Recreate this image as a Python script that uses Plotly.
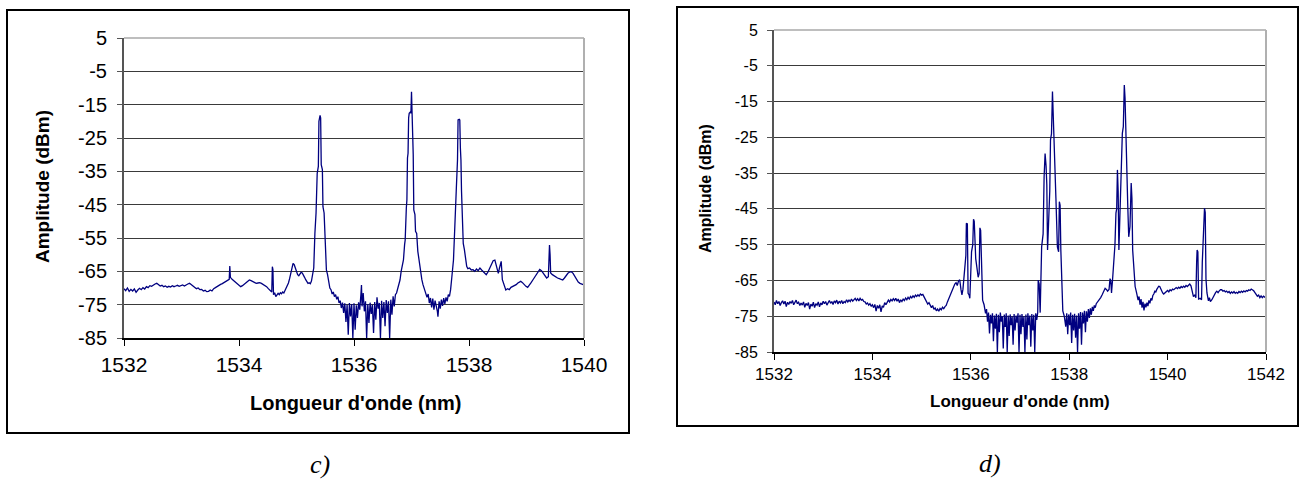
import plotly.graph_objects as go

# ---------------- data: panel c) ----------------
c_wl = [1532.00,1532.03,1532.06,1532.09,1532.12,1532.15,1532.18,1532.21,1532.24,1532.27,1532.30,1532.33,1532.36,1532.39,1532.42,1532.45,1532.48,1532.51,1532.54,1532.57,1532.60,1532.63,1532.66,1532.69,1532.72,1532.75,1532.78,1532.81,1532.84,1532.87,1532.90,1532.93,1532.96,1532.99,1533.02,1533.05,1533.08,1533.11,1533.14,1533.17,1533.20,1533.23,1533.26,1533.29,1533.32,1533.35,1533.38,1533.41,1533.44,1533.47,1533.50,1533.53,1533.56,1533.59,1533.62,1533.65,1533.68,1533.71,1533.74,1533.77,1533.80,1533.83,1533.84,1533.85,1533.88,1533.91,1533.94,1533.97,1534.00,1534.03,1534.06,1534.09,1534.12,1534.15,1534.18,1534.21,1534.24,1534.27,1534.30,1534.33,1534.36,1534.39,1534.42,1534.45,1534.48,1534.51,1534.54,1534.57,1534.58,1534.59,1534.60,1534.62,1534.64,1534.66,1534.68,1534.70,1534.72,1534.74,1534.76,1534.78,1534.80,1534.82,1534.84,1534.86,1534.88,1534.90,1534.92,1534.94,1534.96,1534.98,1535.00,1535.02,1535.04,1535.06,1535.08,1535.10,1535.12,1535.14,1535.16,1535.18,1535.20,1535.22,1535.24,1535.26,1535.28,1535.30,1535.32,1535.34,1535.36,1535.38,1535.39,1535.40,1535.41,1535.42,1535.43,1535.45,1535.46,1535.48,1535.50,1535.52,1535.54,1535.56,1535.58,1535.60,1535.62,1535.64,1535.66,1535.68,1535.70,1535.72,1535.74,1535.76,1535.78,1535.80,1535.82,1535.84,1535.86,1535.88,1535.90,1535.92,1535.94,1535.96,1535.98,1536.00,1536.02,1536.04,1536.06,1536.08,1536.10,1536.12,1536.13,1536.14,1536.16,1536.18,1536.20,1536.22,1536.24,1536.26,1536.28,1536.30,1536.32,1536.34,1536.36,1536.38,1536.40,1536.42,1536.44,1536.46,1536.48,1536.50,1536.52,1536.54,1536.56,1536.58,1536.60,1536.62,1536.64,1536.66,1536.68,1536.70,1536.72,1536.74,1536.76,1536.78,1536.80,1536.82,1536.84,1536.86,1536.88,1536.89,1536.91,1536.92,1536.93,1536.94,1536.95,1536.96,1536.98,1536.99,1537.00,1537.01,1537.02,1537.03,1537.04,1537.06,1537.07,1537.09,1537.11,1537.13,1537.15,1537.18,1537.20,1537.23,1537.25,1537.27,1537.29,1537.31,1537.33,1537.35,1537.37,1537.39,1537.41,1537.43,1537.45,1537.46,1537.48,1537.50,1537.52,1537.54,1537.56,1537.58,1537.60,1537.62,1537.64,1537.66,1537.68,1537.70,1537.72,1537.73,1537.75,1537.76,1537.78,1537.80,1537.81,1537.83,1537.84,1537.85,1537.86,1537.87,1537.88,1537.90,1537.92,1537.94,1537.96,1537.98,1538.01,1538.04,1538.07,1538.10,1538.13,1538.16,1538.19,1538.22,1538.25,1538.28,1538.30,1538.33,1538.36,1538.39,1538.42,1538.45,1538.47,1538.49,1538.51,1538.53,1538.55,1538.56,1538.58,1538.60,1538.62,1538.64,1538.67,1538.70,1538.73,1538.76,1538.79,1538.82,1538.85,1538.88,1538.90,1538.93,1538.96,1538.99,1539.02,1539.05,1539.08,1539.11,1539.14,1539.17,1539.20,1539.23,1539.26,1539.29,1539.32,1539.35,1539.38,1539.40,1539.41,1539.42,1539.45,1539.48,1539.51,1539.54,1539.57,1539.60,1539.63,1539.66,1539.69,1539.72,1539.75,1539.78,1539.81,1539.84,1539.87,1539.90,1539.93,1539.96,1540.00]
c_amp = [-70.2,-70.8,-70.0,-71.0,-70.4,-70.9,-70.3,-71.3,-70.6,-70.1,-70.5,-69.9,-70.3,-69.6,-69.9,-69.3,-69.5,-69.0,-68.8,-68.6,-69.1,-69.4,-69.2,-69.6,-69.4,-69.8,-69.5,-69.7,-69.3,-69.6,-69.4,-69.2,-69.5,-69.3,-69.1,-69.4,-69.0,-68.8,-68.6,-69.0,-69.5,-69.8,-70.2,-70.0,-70.5,-70.4,-70.9,-70.7,-71.1,-71.0,-70.6,-70.9,-70.2,-69.9,-69.5,-69.3,-68.9,-68.7,-68.4,-68.2,-67.8,-67.4,-63.4,-66.8,-67.4,-67.9,-68.3,-68.8,-69.2,-69.6,-69.3,-68.8,-68.3,-67.9,-67.6,-67.8,-68.1,-68.4,-68.6,-68.5,-68.4,-68.6,-68.9,-69.3,-69.6,-70.2,-70.8,-71.2,-63.6,-64.5,-72.0,-71.4,-72.6,-72.1,-71.6,-72.0,-71.4,-71.7,-71.2,-71.5,-70.8,-70.4,-69.6,-68.5,-67.2,-65.6,-63.5,-62.6,-63.0,-64.2,-65.3,-66.0,-66.3,-65.8,-65.3,-65.5,-66.0,-66.8,-67.5,-68.2,-68.6,-68.4,-68.7,-67.9,-66.2,-64.0,-53.6,-47.5,-35.6,-33.5,-20.0,-18.6,-18.2,-19.0,-33.0,-34.5,-45.6,-47.5,-57.0,-64.6,-66.0,-68.5,-70.0,-70.5,-71.8,-71.2,-72.6,-72.0,-73.4,-72.6,-74.5,-73.8,-76.0,-74.4,-77.5,-74.6,-80.2,-75.0,-84.0,-74.5,-78.5,-74.8,-85.0,-74.6,-82.5,-75.2,-79.0,-74.3,-76.5,-72.0,-69.1,-75.5,-71.5,-77.0,-74.0,-85.0,-74.8,-80.5,-74.4,-77.8,-75.0,-83.5,-74.2,-79.5,-72.8,-76.2,-74.5,-85.0,-73.8,-79.0,-74.2,-81.5,-73.6,-77.5,-74.0,-85.0,-73.5,-78.0,-72.5,-75.5,-72.0,-71.5,-70.0,-68.5,-67.6,-65.0,-63.5,-61.6,-57.0,-55.6,-46.0,-43.6,-31.0,-29.6,-19.0,-17.6,-17.2,-17.6,-11.1,-18.0,-21.6,-30.0,-46.6,-48.0,-53.0,-53.6,-59.0,-62.0,-64.6,-67.5,-69.0,-70.6,-71.5,-72.8,-71.8,-74.5,-73.0,-75.8,-73.2,-76.5,-73.8,-75.0,-77.0,-78.6,-74.0,-76.2,-73.5,-75.4,-73.0,-74.8,-72.8,-74.0,-72.0,-72.5,-70.5,-67.0,-63.5,-61.6,-53.0,-46.6,-40.0,-31.6,-19.6,-19.4,-19.6,-28.0,-31.6,-41.0,-47.6,-56.6,-58.5,-62.0,-63.5,-64.2,-64.0,-64.6,-64.5,-65.0,-64.3,-64.8,-64.0,-64.6,-65.2,-65.6,-66.0,-65.2,-64.0,-63.0,-61.8,-61.6,-63.0,-65.0,-65.6,-64.0,-62.2,-62.0,-67.5,-68.6,-69.8,-70.6,-70.2,-70.5,-69.8,-69.6,-69.3,-69.0,-68.5,-68.2,-68.0,-68.4,-69.0,-69.5,-69.8,-69.2,-68.4,-67.6,-66.8,-65.8,-65.0,-64.4,-64.8,-65.6,-66.5,-67.0,-66.6,-57.1,-60.0,-65.5,-66.0,-66.4,-66.8,-67.0,-67.2,-67.5,-67.6,-67.0,-66.2,-65.6,-65.2,-65.1,-65.6,-66.6,-67.6,-68.2,-68.6,-68.8,-69.1]

# ---------------- data: panel d) ----------------
d_wl = [1532.000,1532.025,1532.050,1532.075,1532.100,1532.125,1532.150,1532.175,1532.200,1532.225,1532.250,1532.275,1532.300,1532.325,1532.350,1532.375,1532.400,1532.425,1532.450,1532.475,1532.500,1532.525,1532.550,1532.575,1532.600,1532.625,1532.650,1532.675,1532.700,1532.725,1532.750,1532.775,1532.800,1532.825,1532.850,1532.875,1532.900,1532.925,1532.950,1532.975,1533.000,1533.025,1533.050,1533.075,1533.100,1533.125,1533.150,1533.175,1533.200,1533.225,1533.250,1533.275,1533.300,1533.325,1533.350,1533.375,1533.400,1533.425,1533.450,1533.475,1533.500,1533.525,1533.550,1533.575,1533.600,1533.625,1533.650,1533.675,1533.700,1533.725,1533.750,1533.775,1533.800,1533.825,1533.850,1533.875,1533.900,1533.925,1533.950,1533.975,1534.000,1534.025,1534.050,1534.075,1534.100,1534.125,1534.150,1534.175,1534.200,1534.225,1534.250,1534.275,1534.300,1534.325,1534.350,1534.375,1534.400,1534.425,1534.450,1534.475,1534.500,1534.525,1534.550,1534.575,1534.600,1534.625,1534.650,1534.675,1534.700,1534.725,1534.750,1534.775,1534.800,1534.825,1534.850,1534.875,1534.900,1534.925,1534.950,1534.975,1535.000,1535.025,1535.050,1535.075,1535.100,1535.125,1535.150,1535.175,1535.200,1535.225,1535.250,1535.275,1535.300,1535.325,1535.350,1535.375,1535.400,1535.425,1535.450,1535.475,1535.500,1535.525,1535.550,1535.575,1535.600,1535.625,1535.650,1535.675,1535.700,1535.725,1535.750,1535.775,1535.800,1535.820,1535.840,1535.860,1535.880,1535.900,1535.910,1535.930,1535.945,1535.965,1535.980,1536.000,1536.015,1536.040,1536.055,1536.070,1536.085,1536.100,1536.125,1536.150,1536.170,1536.185,1536.200,1536.215,1536.240,1536.270,1536.300,1536.320,1536.340,1536.360,1536.380,1536.400,1536.420,1536.440,1536.460,1536.480,1536.500,1536.520,1536.540,1536.560,1536.580,1536.600,1536.620,1536.640,1536.660,1536.680,1536.700,1536.720,1536.740,1536.760,1536.780,1536.800,1536.820,1536.840,1536.860,1536.880,1536.900,1536.920,1536.940,1536.960,1536.980,1537.000,1537.020,1537.040,1537.060,1537.080,1537.100,1537.120,1537.140,1537.160,1537.180,1537.200,1537.220,1537.240,1537.260,1537.280,1537.300,1537.320,1537.340,1537.360,1537.370,1537.390,1537.410,1537.440,1537.470,1537.490,1537.510,1537.530,1537.545,1537.560,1537.575,1537.590,1537.605,1537.620,1537.640,1537.660,1537.675,1537.690,1537.710,1537.730,1537.760,1537.785,1537.800,1537.815,1537.830,1537.850,1537.870,1537.900,1537.930,1537.950,1537.970,1537.990,1538.010,1538.030,1538.050,1538.070,1538.090,1538.110,1538.130,1538.150,1538.170,1538.190,1538.210,1538.230,1538.250,1538.270,1538.290,1538.310,1538.330,1538.350,1538.370,1538.390,1538.410,1538.430,1538.450,1538.470,1538.490,1538.510,1538.530,1538.550,1538.580,1538.610,1538.640,1538.670,1538.700,1538.730,1538.760,1538.780,1538.810,1538.830,1538.845,1538.860,1538.880,1538.900,1538.930,1538.950,1538.965,1538.980,1538.995,1539.010,1539.030,1539.055,1539.080,1539.100,1539.120,1539.135,1539.150,1539.170,1539.190,1539.210,1539.235,1539.260,1539.275,1539.290,1539.315,1539.340,1539.370,1539.400,1539.420,1539.440,1539.460,1539.480,1539.500,1539.520,1539.540,1539.560,1539.580,1539.600,1539.620,1539.640,1539.660,1539.680,1539.700,1539.720,1539.740,1539.760,1539.780,1539.800,1539.820,1539.840,1539.860,1539.880,1539.900,1539.920,1539.950,1539.975,1540.000,1540.025,1540.050,1540.075,1540.100,1540.125,1540.150,1540.175,1540.200,1540.225,1540.250,1540.275,1540.300,1540.325,1540.350,1540.375,1540.400,1540.425,1540.450,1540.475,1540.500,1540.525,1540.550,1540.575,1540.590,1540.600,1540.615,1540.630,1540.660,1540.690,1540.705,1540.720,1540.735,1540.750,1540.765,1540.780,1540.800,1540.830,1540.850,1540.870,1540.900,1540.925,1540.950,1540.975,1541.000,1541.025,1541.050,1541.075,1541.100,1541.125,1541.150,1541.175,1541.200,1541.225,1541.250,1541.275,1541.300,1541.325,1541.350,1541.375,1541.400,1541.425,1541.450,1541.475,1541.500,1541.525,1541.550,1541.575,1541.600,1541.625,1541.650,1541.675,1541.700,1541.725,1541.750,1541.775,1541.800,1541.825,1541.850,1541.875,1541.900,1541.925,1541.950,1541.975,1542.000]
d_amp = [-71.0,-71.8,-70.6,-71.5,-70.9,-72.0,-71.2,-70.7,-71.6,-70.8,-72.3,-71.1,-71.7,-70.9,-71.4,-70.6,-71.8,-71.0,-70.5,-71.5,-71.1,-72.0,-71.3,-71.9,-71.0,-72.5,-71.4,-72.0,-71.2,-73.0,-71.6,-72.2,-71.1,-72.6,-71.5,-71.9,-71.0,-72.4,-71.3,-71.8,-70.8,-71.5,-70.9,-71.9,-71.1,-70.6,-71.4,-70.9,-71.7,-70.7,-71.2,-70.5,-71.6,-70.8,-71.3,-70.6,-71.5,-70.9,-71.2,-70.4,-71.0,-70.5,-70.9,-70.2,-70.8,-70.4,-70.0,-70.6,-70.1,-70.7,-70.0,-70.5,-70.3,-70.9,-71.0,-71.6,-71.3,-71.9,-71.5,-72.2,-71.8,-72.6,-71.7,-73.6,-72.0,-72.8,-71.8,-73.8,-72.1,-72.5,-71.2,-71.8,-70.9,-70.5,-71.0,-70.3,-70.7,-70.1,-70.6,-70.0,-70.8,-70.2,-71.2,-70.4,-70.9,-70.2,-70.6,-69.9,-70.4,-69.7,-70.2,-69.5,-69.9,-69.3,-69.7,-69.1,-69.5,-69.0,-69.4,-68.8,-69.1,-68.9,-69.6,-70.3,-70.8,-71.6,-71.2,-72.2,-72.6,-72.0,-73.1,-72.7,-73.5,-73.0,-73.6,-72.8,-73.2,-72.5,-72.9,-72.3,-72.0,-71.0,-70.2,-69.4,-68.2,-67.3,-66.6,-66.0,-65.6,-66.4,-65.2,-64.8,-67.5,-69.0,-67.5,-63.5,-60.7,-58.0,-49.0,-49.2,-68.6,-69.0,-70.0,-63.5,-57.0,-55.0,-47.9,-48.5,-57.5,-58.9,-61.5,-64.1,-63.0,-50.3,-51.0,-62.0,-70.5,-71.8,-74.2,-73.0,-76.5,-74.0,-79.8,-74.6,-77.0,-74.2,-82.0,-74.8,-78.5,-74.3,-85.0,-74.6,-79.5,-74.0,-76.5,-75.0,-84.0,-74.5,-78.0,-74.2,-85.0,-74.8,-80.5,-74.5,-77.5,-75.0,-83.0,-74.4,-79.0,-74.8,-76.8,-74.2,-85.0,-74.6,-80.0,-74.4,-78.0,-75.0,-85.0,-74.5,-81.5,-74.2,-77.5,-74.8,-83.5,-74.4,-79.0,-74.6,-85.0,-74.2,-76.0,-74.0,-64.9,-66.0,-74.0,-55.6,-52.0,-36.0,-29.5,-33.0,-38.2,-56.5,-50.0,-43.4,-40.0,-25.7,-24.0,-12.2,-20.0,-26.6,-38.8,-42.0,-55.6,-57.0,-43.0,-44.0,-56.5,-65.0,-73.5,-75.0,-77.9,-74.2,-80.0,-74.5,-77.5,-74.0,-82.5,-74.6,-79.0,-74.3,-81.0,-74.8,-85.0,-74.2,-78.5,-73.8,-83.0,-74.0,-77.0,-73.5,-79.5,-73.6,-76.5,-73.0,-75.5,-72.8,-74.6,-72.4,-73.5,-72.0,-72.6,-71.5,-71.0,-70.5,-69.8,-69.0,-67.8,-67.2,-67.6,-68.0,-67.5,-64.5,-65.0,-68.5,-65.0,-61.1,-55.0,-46.2,-45.0,-34.1,-40.0,-56.5,-48.1,-40.0,-23.9,-22.0,-10.4,-14.0,-23.3,-38.8,-44.0,-52.8,-50.0,-37.8,-42.0,-56.5,-62.0,-66.7,-68.5,-70.5,-69.5,-71.8,-70.2,-72.6,-71.0,-73.4,-71.5,-72.5,-71.2,-72.2,-70.6,-71.4,-70.0,-70.6,-69.2,-68.8,-68.0,-68.2,-67.5,-67.0,-66.6,-66.7,-67.4,-68.0,-68.5,-68.8,-68.5,-68.0,-67.8,-68.2,-67.6,-67.9,-67.4,-67.6,-67.2,-67.0,-67.3,-66.9,-67.2,-66.7,-67.0,-66.6,-66.9,-66.4,-66.7,-66.2,-66.0,-66.5,-68.5,-69.5,-69.0,-69.8,-60.0,-56.5,-57.0,-70.2,-70.0,-70.4,-60.0,-54.6,-52.0,-44.8,-46.0,-64.6,-68.5,-70.7,-69.8,-70.9,-70.4,-69.6,-69.0,-68.4,-68.0,-68.4,-67.9,-67.6,-67.6,-68.0,-67.8,-68.2,-68.0,-68.4,-68.1,-68.6,-68.2,-68.5,-68.1,-68.6,-68.3,-68.6,-68.1,-68.4,-68.0,-68.3,-67.9,-68.2,-67.8,-68.0,-67.6,-67.8,-67.4,-67.6,-67.9,-68.4,-68.8,-69.4,-69.1,-69.8,-69.3,-69.8,-69.4,-69.7,-69.4]

y_ticks = [5, -5, -15, -25, -35, -45, -55, -65, -75, -85]
y_tick_text = [str(v) for v in y_ticks]
c_xticks = [1532, 1534, 1536, 1538, 1540]
d_xticks = [1532, 1534, 1536, 1538, 1540, 1542]
x_title = "Longueur d'onde (nm)"
y_title = "Amplitude (dBm)"
captions = ["c)", "d)"]

W, H = 1302, 480
LINE = "#000080"
SANS = "Liberation Sans, Arial, sans-serif"
SERIF = "Liberation Serif, Times New Roman, serif"

def px(x):
    return x / W

def py(y):
    return 1 - y / H

fig = go.Figure()
fig.add_trace(go.Scatter(x=c_wl, y=c_amp, mode="lines", line=dict(color=LINE, width=1.3),
                         xaxis="x", yaxis="y", showlegend=False, hoverinfo="skip"))
fig.add_trace(go.Scatter(x=d_wl, y=d_amp, mode="lines", line=dict(color=LINE, width=1.3),
                         xaxis="x2", yaxis="y2", showlegend=False, hoverinfo="skip"))

# panel geometry (pixels)
cL, cR, cT, cB = 124, 584, 38, 338
dL, dR, dT, dB = 774, 1266, 30, 352

def yaxis(dom, anchor, fs, standoff):
    return dict(domain=dom, anchor=anchor, range=[-85, 5], tickvals=y_ticks, ticktext=y_tick_text,
                showgrid=True, gridcolor="#3a3a3a", gridwidth=1, zeroline=False,
                showline=True, linecolor="#555555", linewidth=2,
                ticks="outside", ticklen=5, tickcolor="#555555", tickwidth=1,
                tickfont=dict(family=SANS, size=fs, color="black"),
                ticklabelstandoff=standoff, automargin=False, fixedrange=True)

def xaxis(dom, anchor, ticks, rng, fs, standoff):
    return dict(domain=dom, anchor=anchor, range=rng, tickvals=ticks,
                ticktext=[str(t) for t in ticks],
                showgrid=False, zeroline=False, showline=True, linecolor="black", linewidth=1.5,
                ticks="outside", ticklen=6, tickcolor="black", tickwidth=1,
                tickfont=dict(family=SANS, size=fs, color="black"),
                ticklabelstandoff=standoff, automargin=False, fixedrange=True)

fig.update_layout(
    width=W, height=H, margin=dict(l=0, r=0, t=0, b=0, pad=0), autosize=False,
    paper_bgcolor="white", plot_bgcolor="white",
    xaxis=xaxis([px(cL), px(cR)], "y", c_xticks, [1532, 1540], 21, 1),
    yaxis=yaxis([py(cB), py(cT)], "x", 20, 6),
    xaxis2=xaxis([px(dL), px(dR)], "y2", d_xticks, [1532, 1542], 17, 0),
    yaxis2=yaxis([py(dB), py(dT)], "x2", 16, 6),
)

shapes = []
# outer frames
shapes.append(dict(type="rect", xref="paper", yref="paper", x0=px(7), x1=px(629), y0=py(433), y1=py(10),
                   line=dict(color="black", width=2), layer="above"))
shapes.append(dict(type="rect", xref="paper", yref="paper", x0=px(677), x1=px(1298), y0=py(426), y1=py(7),
                   line=dict(color="black", width=2), layer="above"))
# plot-area border (top and right, grey)
for xr, yr in (("x domain", "y domain"), ("x2 domain", "y2 domain")):
    shapes.append(dict(type="line", xref=xr, yref=yr, x0=0, x1=1, y0=1, y1=1,
                       line=dict(color="#a8a8a8", width=1.5), layer="above"))
    shapes.append(dict(type="line", xref=xr, yref=yr, x0=1, x1=1, y0=0, y1=1,
                       line=dict(color="#b0b0b0", width=2), layer="above"))
fig.update_layout(shapes=shapes)

ann = []
ann.append(dict(text="<b>" + x_title + "</b>", x=px((cL + cR) / 2 + 1), y=py(403), xref="paper", yref="paper",
                showarrow=False, font=dict(family=SANS, size=20, color="black"), xanchor="center", yanchor="middle"))
ann.append(dict(text="<b>" + y_title + "</b>", x=px(42), y=py(187), xref="paper", yref="paper", textangle=-90,
                showarrow=False, font=dict(family=SANS, size=19, color="black"), xanchor="center", yanchor="middle"))
ann.append(dict(text="<b>" + x_title + "</b>", x=px((dL + dR) / 2), y=py(401), xref="paper", yref="paper",
                showarrow=False, font=dict(family=SANS, size=17, color="black"), xanchor="center", yanchor="middle"))
ann.append(dict(text="<b>" + y_title + "</b>", x=px(705), y=py(189), xref="paper", yref="paper", textangle=-90,
                showarrow=False, font=dict(family=SANS, size=16, color="black"), xanchor="center", yanchor="middle"))
ann.append(dict(text="<i>" + captions[0] + "</i>", x=px(320), y=py(464), xref="paper", yref="paper",
                showarrow=False, font=dict(family=SERIF, size=26, color="black"), xanchor="center", yanchor="middle"))
ann.append(dict(text="<i>" + captions[1] + "</i>", x=px(990), y=py(463), xref="paper", yref="paper",
                showarrow=False, font=dict(family=SERIF, size=26, color="black"), xanchor="center", yanchor="middle"))
fig.update_layout(annotations=ann)

fig.write_html("out.html", config={"displayModeBar": False},
               post_script="document.body.style.margin='0';document.body.style.padding='0';document.body.style.overflow='hidden';")
